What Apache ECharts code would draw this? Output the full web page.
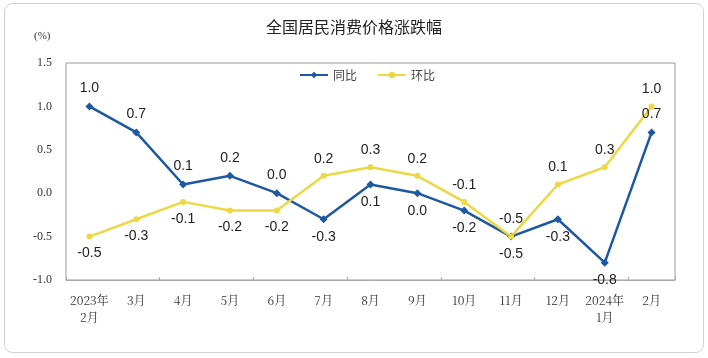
<!DOCTYPE html>
<html><head><meta charset="utf-8">
<script src="https://cdn.jsdelivr.net/npm/echarts@6/dist/echarts.min.js"></script>
<style>html,body{margin:0;padding:0;background:#fff}#c{width:708px;height:358px}</style>
</head><body><div id="c"></div>
<script>
const categories = ['2023年\n2月','3月','4月','5月','6月','7月','8月','9月','10月','11月','12月','2024年\n1月','2月'];
const yoy = [1.0, 0.7, 0.1, 0.2, 0.0, -0.3, 0.1, 0.0, -0.2, -0.5, -0.3, -0.8, 0.7];
const mom = [-0.5, -0.3, -0.1, -0.2, -0.2, 0.2, 0.3, 0.2, -0.1, -0.5, 0.1, 0.3, 1.0];
const yoyLabelPos = ['top','top','top','top','top','bottom','bottom','bottom','bottom','bottom','bottom','bottom','top'];
const momLabelPos = ['bottom','bottom','bottom','bottom','bottom','top','top','top','top','top','top','top','top'];

const chart = echarts.init(document.getElementById('c'));
const lblStyle = {fontFamily:"'Liberation Sans', Arial, sans-serif", fontSize:14, color:'#222', distance:7};
function mk(vals, pos) {
  return vals.map((v,i)=>({value:v, label:{position:pos[i]}}));
}
const blue = '#1d58a0', yellow = '#ecd845';
const serif = "'Liberation Serif', 'Times New Roman', serif";
chart.setOption({
  animation:false,
  title:{text:'全国居民消费价格涨跌幅', left:'center', top:14,
    textStyle:{fontFamily:"'Noto Sans CJK SC', sans-serif", fontSize:16, fontWeight:'normal', color:'#222'}},
  legend:{top:64, left:294, itemWidth:28, itemHeight:8, itemGap:20,
    textStyle:{fontFamily:"'Noto Sans CJK SC', sans-serif", fontSize:12, color:'#444'},
    data:['同比','环比']},
  grid:{left:66, right:33, top:63, bottom:78, show:true, borderColor:'#9a9a9a', borderWidth:1},
  graphic:[{type:'rect', shape:{x:4.5, y:3.5, width:699, height:349, r:8},
    style:{fill:'none', stroke:'#d0d0d0', lineWidth:1}, z:-1},
    {type:'text', left:34, top:31, style:{text:'(%)', font:"11px 'Liberation Serif', serif", fill:'#333'}}],
  xAxis:[{type:'category', data:categories, boundaryGap:true,
    axisLine:{show:false}, axisTick:{show:false},
    axisLabel:{interval:0, fontFamily:"'Noto Serif CJK SC', 'Liberation Serif', serif", fontSize:12, color:'#333', margin:12, lineHeight:17}},
   {type:'category', data:categories, boundaryGap:true, position:'bottom',
    axisLine:{onZero:true, lineStyle:{color:'#aaaaaa', width:1}},
    axisTick:{show:true, inside:true, length:3, lineStyle:{color:'#aaaaaa'}},
    axisLabel:{show:false}}],
  yAxis:{type:'value', min:-1.0, max:1.5, interval:0.5,
    axisLine:{show:false}, axisTick:{show:false}, splitLine:{show:false},
    axisLabel:{fontFamily:serif, fontSize:12, color:'#333', margin:14,
      formatter:v=>v.toFixed(1)}},
  series:[
    {name:'同比', type:'line', data:mk(yoy, yoyLabelPos), symbol:'diamond', symbolSize:8,
     lineStyle:{color:blue, width:2.5}, itemStyle:{color:blue},
     label:Object.assign({show:true, formatter:p=>p.value.toFixed(1)}, lblStyle)},
    {name:'环比', type:'line', data:mk(mom, momLabelPos), symbol:'circle', symbolSize:6,
     lineStyle:{color:yellow, width:2.5}, itemStyle:{color:yellow},
     label:Object.assign({show:true, formatter:p=>p.value.toFixed(1)}, lblStyle)}
  ]
});
</script></body></html>
